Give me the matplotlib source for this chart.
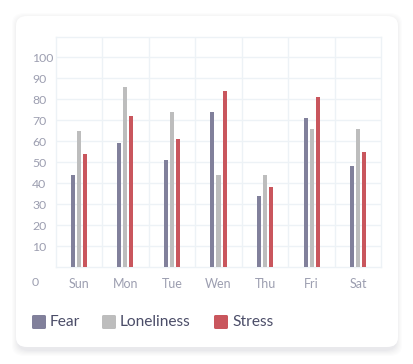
import numpy as np
import matplotlib.pyplot as plt
from matplotlib.patches import FancyBboxPatch
import matplotlib.transforms as mtransforms

# data
days = ['Sun', 'Mon', 'Tue', 'Wen', 'Thu', 'Fri', 'Sat']
fear = [44, 59, 51, 74, 34, 71, 48]
loneliness = [65, 86, 74, 44, 44, 66, 66]
stress = [54, 72, 61, 84, 38, 81, 55]
series_names = ['Fear', 'Loneliness', 'Stress']
colors = ['#81809b', '#bdbdbd', '#c9565d']
y_ticks = [10, 20, 30, 40, 50, 60, 70, 80, 90, 100]

W, H = 414, 364
plt.rcParams['font.family'] = ['Lato', 'DejaVu Sans']

fig = plt.figure(figsize=(W / 100, H / 100), dpi=100)
fig.patch.set_facecolor('white')


def fx(px):
    return px / W


def fy(py):
    return 1 - py / H


# card with a soft shadow
for i, a in enumerate([0.018, 0.018, 0.02, 0.022, 0.025, 0.03]):
    g = 6 - i
    sh = FancyBboxPatch((fx(16 - g + 2), fy(347 + g + 3)), fx(382 + 2 * g - 4), (331 + 2 * g) / H,
                        boxstyle='round,pad=0,rounding_size=0.03', transform=fig.transFigure,
                        facecolor='#6b6b80', edgecolor='none', alpha=a, zorder=0)
    fig.patches.append(sh)
card = FancyBboxPatch((fx(16), fy(347)), fx(382), 331 / H,
                      boxstyle='round,pad=0,rounding_size=0.026', transform=fig.transFigure,
                      facecolor='white', edgecolor='none', zorder=1)
fig.patches.append(card)

ax = fig.add_axes([fx(55.7), fy(267.3), fx(381.3 - 55.7), (267.3 - 37.3) / H])
ax.set_facecolor('none')
ax.set_zorder(2)

x = np.arange(len(days))
bw = 0.086
off = 0.129
for i, vals in enumerate([fear, loneliness, stress]):
    ax.bar(x + (i - 1) * off, vals, width=bw, color=colors[i], zorder=3)

ax.set_xlim(-0.5, len(days) - 0.5)
ax.set_ylim(0, 109.5)

grid_c = '#edf2f6'
for v in y_ticks:
    ax.axhline(v, color=grid_c, lw=1, zorder=1)
for v in np.arange(0.5, len(days) - 0.5):
    ax.axvline(v, color=grid_c, lw=1, zorder=1)
for s in ax.spines.values():
    s.set_color(grid_c)
    s.set_linewidth(1)

tick_c = '#9c9eb0'
ax.set_yticks(y_ticks)
ax.set_yticklabels([str(v) for v in y_ticks], ha='left')
ax.tick_params(axis='y', length=0, pad=17, labelsize=8.8, labelcolor=tick_c)
ax.set_xticks(x)
ax.set_xticklabels(days)
ax.tick_params(axis='x', length=0, pad=8, labelsize=9, labelcolor=tick_c)

# the zero label sits below the axis
trans = mtransforms.blended_transform_factory(ax.transAxes, ax.transData)
ax.text((32 - 55.7) / (381.3 - 55.7), -7, '0', transform=trans, ha='left', va='center',
        fontsize=8.8, color=tick_c, clip_on=False)

# legend
leg_x = [32, 102, 214]
for name, c, lx in zip(series_names, colors, leg_x):
    sq = FancyBboxPatch((fx(lx), fy(329)), fx(14), 14 / H,
                        boxstyle='round,pad=0,rounding_size=0.004', transform=fig.transFigure,
                        facecolor=c, edgecolor='none', zorder=3)
    fig.patches.append(sq)
    fig.text(fx(lx + 18), fy(322), name, ha='left', va='center', fontsize=11.2,
             color='#4b4d68', zorder=4)

fig.savefig('out.png', dpi=100)
